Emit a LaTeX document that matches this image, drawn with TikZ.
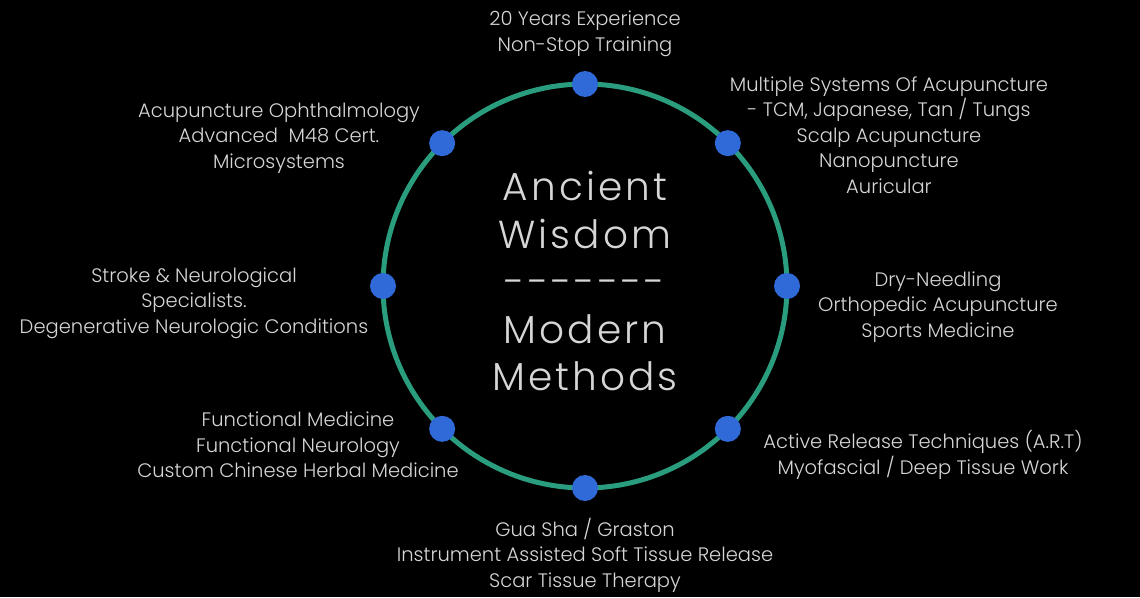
\documentclass[tikz,border=0pt]{standalone}
\usepackage{fontspec}
\setmainfont{Poppins Light}
\usetikzlibrary{positioning, calc}
\definecolor{ringgreen}{HTML}{2A9D7E}
\definecolor{dotblue}{HTML}{2F6AD8}
\definecolor{textgray}{HTML}{D6D6D6}
\definecolor{bgblack}{HTML}{000000}

\begin{document}
\begin{tikzpicture}[
    x=1pt, y=-1pt,
    every node/.style={align=center},
    ring/.style={draw=ringgreen, line width=5pt},
    dot/.style={circle, fill=dotblue, minimum size=26pt, inner sep=0pt},
    item/.style={text=textgray, font=\fontsize{19.5}{25.5}\selectfont, inner sep=0pt},
    motto/.style={text=textgray, font=\fontsize{39}{47.5}\selectfont\addfontfeatures{LetterSpace=8}, inner sep=0pt}
]

\fill[bgblack] (0,0) rectangle (1140,597);
\useasboundingbox (0,0) rectangle (1140,597);

\coordinate (hub) at (585,286);
\draw[ring] (hub) circle[radius=202];

% dots round the ring (y runs downwards, so -90 is the top)
\foreach \ang/\nm in {-90/top, -45/topright, 0/right, 45/botright, 90/bot, 135/botleft, 180/left, -135/topleft}
    \node[dot] (dot-\nm) at ($(hub)+(\ang:202)$) {};

\node[motto] (motto) at (585,281) {Ancient\\Wisdom\\-{}-{}-{}-{}-{}-{}-\\Modern\\Methods};

\node[item] (years)   at (585,34)  {20 Years Experience\\Non-Stop Training};
\node[item] (systems) at (889,135) {Multiple Systems Of Acupuncture\\- TCM, Japanese, Tan / Tungs\\Scalp Acupuncture\\Nanopuncture\\Auricular};
\node[item] (dry)     at (938,307) {Dry-Needling\\Orthopedic Acupuncture\\Sports Medicine};
\node[item] (art)     at (923,455) {Active Release Techniques (A.R.T)\\Myofascial / Deep Tissue Work};
\node[item] (gua)     at (585,555) {Gua Sha / Graston\\Instrument Assisted Soft Tissue Release\\Scar Tissue Therapy};
\node[item] (func)    at (298,445) {Functional Medicine\\Functional Neurology\\Custom Chinese Herbal Medicine};
\node[item] (stroke)  at (194,303) {Stroke \& Neurological\\Specialists.\\Degenerative Neurologic Conditions};
\node[item] (eye)     at (279,138) {Acupuncture Ophthalmology\\Advanced~ M48 Cert.\\Microsystems};

\end{tikzpicture}
\end{document}
